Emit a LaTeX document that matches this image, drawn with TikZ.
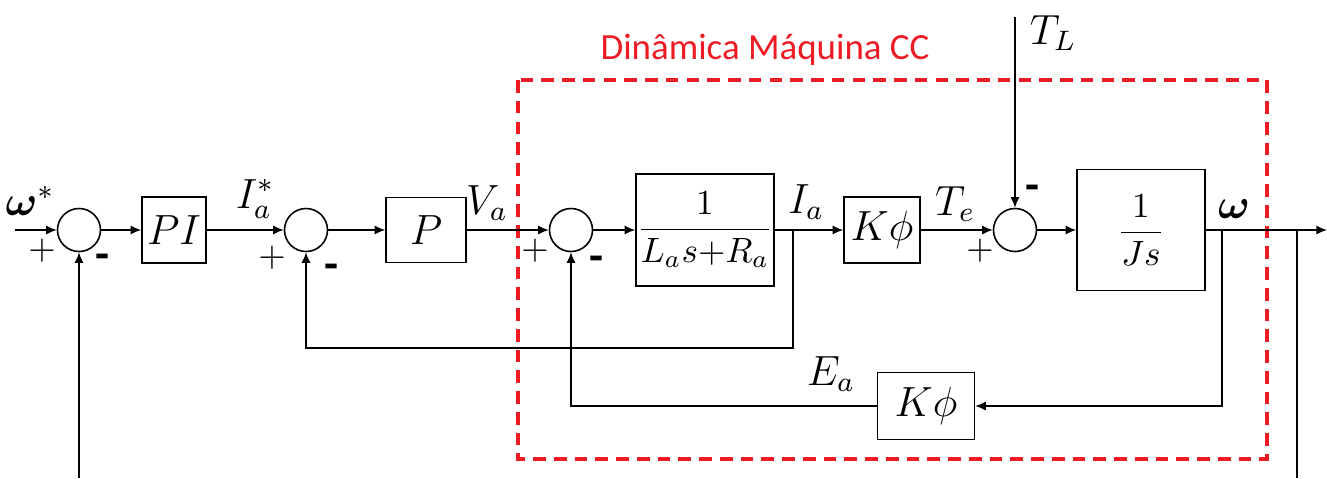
\documentclass[tikz,border=0pt]{standalone}
\usepackage{amsmath}
\usepackage{fontspec}
\usetikzlibrary{arrows.meta}
\newfontfamily\titlefont{Carlito}
\definecolor{ccred}{RGB}{237,28,36}

\begin{document}
\begin{tikzpicture}[
  x=0.01cm, y=-0.01cm,
  >={Latex[length=3pt,width=2.6pt]},
  ln/.style={line width=0.45pt},
  arr/.style={->, line width=0.45pt},
  sumnode/.style={circle, draw, line width=0.45pt, minimum size=0.43cm, inner sep=0pt},
  blk/.style={draw, line width=0.45pt, inner sep=0pt, font=\fontsize{12}{14}\selectfont},
  fracblk/.style={draw, line width=0.45pt, inner sep=0pt, font=\fontsize{10}{12}\selectfont},
  sig/.style={font=\fontsize{11.5}{14}\selectfont},
  plussign/.style={font=\fontsize{10}{12}\selectfont},
  minussign/.style={font=\titlefont\bfseries\fontsize{13}{13}\selectfont}
]
\useasboundingbox (0,0) rectangle (1327,478);

% Main line
\def\ym{230}

% Machine frame
\draw[ccred, line width=0.95pt, dash pattern=on 3.6pt off 2.3pt] (518,80) rectangle (1267,459);
\node[text=ccred, font=\titlefont\fontsize{10.5}{12}\selectfont] (title) at (765,50) {Dinâmica Máquina CC};

% Summing junctions
\node[sumnode] (s1) at (79,\ym) {};
\node[sumnode] (s2) at (306,\ym) {};
\node[sumnode] (s3) at (571,\ym) {};
\node[sumnode] (s4) at (1015,\ym) {};

% Blocks
\node[blk, minimum width=0.64cm, minimum height=0.66cm] (pi) at (174,\ym) {$PI$};
\node[blk, minimum width=0.80cm, minimum height=0.65cm] (p) at (426,\ym) {$P$};
\node[fracblk, minimum width=1.38cm, minimum height=1.12cm] (ga) at (705,\ym) {$\dfrac{1}{L_a s{+}R_a}$};
\node[blk, minimum width=0.76cm, minimum height=0.66cm] (kf) at (882,\ym) {$K\phi$};
\node[fracblk, minimum width=1.28cm, minimum height=1.21cm] (js) at (1141,\ym) {$\dfrac{1}{Js}$};
\node[blk, minimum width=0.97cm, minimum height=0.67cm] (kf2) at (926,406) {$K\phi$};

% Free ends and branch points
\coordinate (in) at (15,\ym);
\coordinate (out) at (1327,\ym);
\coordinate (wm) at (79,478);
\coordinate (tl) at (1015,17);
\coordinate (bi) at (793,\ym);
\coordinate (bw) at (1222,\ym);
\coordinate (bo) at (1297,\ym);
\coordinate (wo) at (1297,478);

% Forward path
\draw[arr] (in) -- (s1.west);
\draw[arr] (s1.east) -- (pi.west);
\draw[arr] (pi.east) -- (s2.west);
\draw[arr] (s2.east) -- (p.west);
\draw[arr] (p.east) -- (s3.west);
\draw[arr] (s3.east) -- (ga.west);
\draw[arr] (ga.east) -- (kf.west);
\draw[arr] (kf.east) -- (s4.west);
\draw[arr] (s4.east) -- (js.west);
\draw[arr] (js.east) -- (out);
\draw[arr] (tl) -- (s4.north);

% Feedback paths
\draw[arr] (wm) -- (s1.south);
\draw[arr] (bi) -- ++(0,118) -| (s2.south);
\draw[arr] (bw) |- (kf2.east);
\draw[arr] (kf2.west) -| (s3.south);
\draw[ln] (bo) -- (wo);

% Signal labels
\node[sig] (lw) at (30,201) {$\boldsymbol{\omega}^{*}$};
\node[sig] (lia) at (255,199) {$I_a^{*}$};
\node[sig] (lva) at (487,203) {$V_a$};
\node[sig] (lia2) at (806,202) {$I_a$};
\node[sig] (lte) at (955,204) {$T_e$};
\node[sig] (ltl) at (1053,33) {$T_L$};
\node[sig] (lom) at (1234,209) {$\boldsymbol{\omega}$};
\node[sig] (lea) at (831,374) {$E_a$};

% Signs
\node[plussign] (p1) at (42,251) {$+$};
\node[plussign] (p2) at (272,258) {$+$};
\node[plussign] (p3) at (535,251) {$+$};
\node[plussign] (p4) at (980,251) {$+$};
\node[minussign] (n1) at (102,262) {-};
\node[minussign] (n2) at (331,272) {-};
\node[minussign] (n3) at (596,264) {-};
\node[minussign] (n4) at (1032,193) {-};

\end{tikzpicture}
\end{document}
